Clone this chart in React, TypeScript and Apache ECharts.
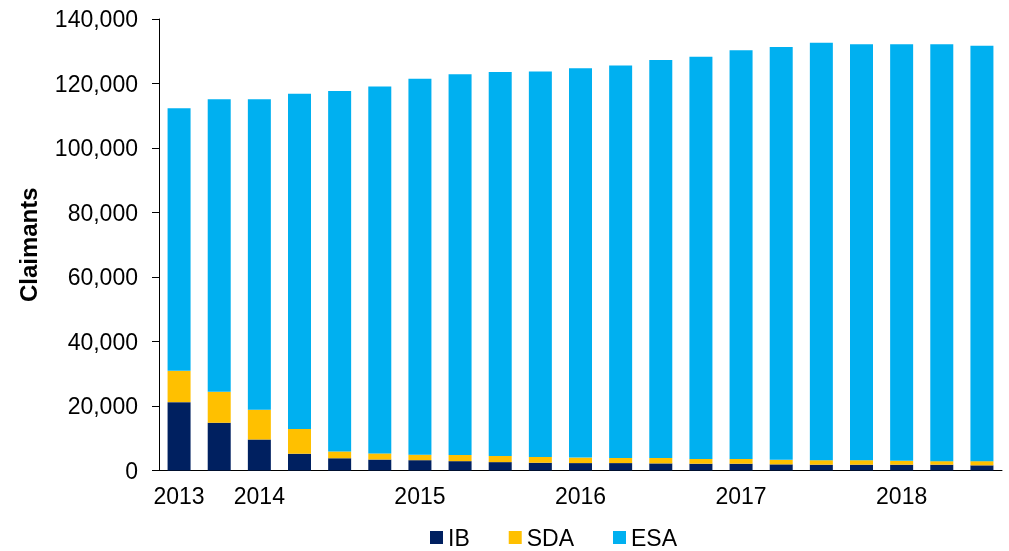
import React, { useEffect, useRef } from "react";
import * as echarts from "echarts";

const categories = [
  "2013 Q3", "2013 Q4", "2014 Q1", "2014 Q2", "2014 Q3", "2014 Q4",
  "2015 Q1", "2015 Q2", "2015 Q3", "2015 Q4", "2016 Q1", "2016 Q2",
  "2016 Q3", "2016 Q4", "2017 Q1", "2017 Q2", "2017 Q3", "2017 Q4",
  "2018 Q1", "2018 Q2", "2018 Q3",
];

const xTickLabels = [
  "2013", "", "2014", "", "", "", "2015", "", "", "", "2016", "",
  "", "", "2017", "", "", "", "2018", "", "",
];

const ibValues = [
  21200, 14800, 9600, 5200, 3800, 3400, 3200, 2900, 2600, 2400, 2300,
  2300, 2200, 2100, 2100, 1900, 1800, 1800, 1800, 1800, 1600,
];

const sdaValues = [
  9700, 9600, 9200, 7700, 2100, 1900, 1700, 1900, 1900, 1800, 1700,
  1600, 1700, 1500, 1500, 1400, 1400, 1400, 1200, 1100, 1300,
];

const esaValues = [
  81400, 90700, 96300, 103900, 111800, 113800, 116600, 118100, 119100,
  119500, 120700, 121700, 123400, 124700, 126700, 128000, 129400, 129000,
  129200, 129300, 128800,
];

const yTicks = { min: 0, max: 140000, interval: 20000 };

const FONT = "'Liberation Sans', Arial, Helvetica, sans-serif";

export default function App() {
  const ref = useRef<HTMLDivElement>(null);

  useEffect(() => {
    if (!ref.current) return;
    const chart = echarts.init(ref.current, null, { renderer: "svg" });
    chart.setOption({
      animation: false,
      textStyle: { fontFamily: FONT, color: "#000" },
      grid: { left: 159, right: 7, top: 19, bottom: 80.5 },
      legend: {
        left: 425,
        top: 521,
        itemWidth: 13,
        itemHeight: 13,
        itemGap: 39,
        icon: "rect",
        textStyle: { fontFamily: FONT, fontSize: 23, color: "#000" },
        data: ["IB", "SDA", "ESA"],
      },
      xAxis: {
        type: "category",
        data: categories,
        boundaryGap: true,
        axisLine: { lineStyle: { color: "#000", width: 1 } },
        axisTick: {
          alignWithLabel: true,
          interval: 0,
          length: 5,
          lineStyle: { color: "#000" },
        },
        axisLabel: {
          interval: 0,
          margin: 14,
          fontSize: 23,
          color: "#000",
          fontFamily: FONT,
          formatter: (_v: string, i: number) => xTickLabels[i],
        },
        splitLine: { show: false },
      },
      yAxis: {
        type: "value",
        min: yTicks.min,
        max: yTicks.max,
        interval: yTicks.interval,
        name: "Claimants",
        nameLocation: "middle",
        nameRotate: 90,
        nameGap: 119,
        nameTextStyle: {
          fontFamily: FONT,
          fontSize: 24,
          fontWeight: "bold",
          color: "#000",
        },
        axisLine: { show: true, lineStyle: { color: "#000", width: 1 } },
        axisTick: { show: true, length: 7, lineStyle: { color: "#000" } },
        axisLabel: {
          margin: 21,
          fontSize: 23,
          color: "#000",
          fontFamily: FONT,
          formatter: (v: number) => v.toLocaleString("en-US"),
        },
        splitLine: { show: false },
      },
      series: [
        {
          name: "IB",
          type: "bar",
          stack: "total",
          barWidth: 23,
          data: ibValues,
          itemStyle: { color: "#002060" },
        },
        {
          name: "SDA",
          type: "bar",
          stack: "total",
          barWidth: 23,
          data: sdaValues,
          itemStyle: { color: "#FFC000" },
        },
        {
          name: "ESA",
          type: "bar",
          stack: "total",
          barWidth: 23,
          data: esaValues,
          itemStyle: { color: "#00B0F0" },
        },
      ],
    });
    return () => chart.dispose();
  }, []);

  return (
    <div
      ref={ref}
      style={{ position: "fixed", left: 0, top: 0, width: 1009, height: 551 }}
    />
  );
}
